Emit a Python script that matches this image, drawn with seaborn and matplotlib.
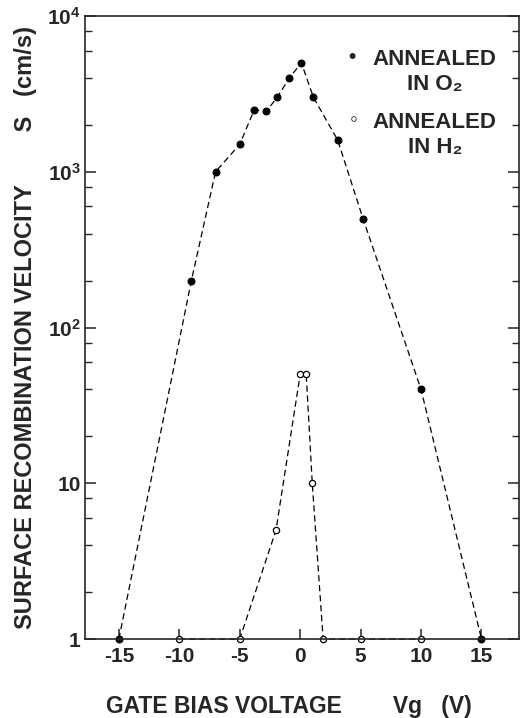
import numpy as np
import pandas as pd
import matplotlib
matplotlib.use('Agg')
import matplotlib.pyplot as plt
import matplotlib.ticker as mticker
import seaborn as sns

# Data
# ========================

# annealed in O2 (filled circles)
vg_o2 = [-15, -9, -7, -5, -3.8, -2.8, -1.9, -0.9, 0.1, 1.1, 3.1, 5.2, 10, 15]
s_o2 = [1, 200, 1000, 1500, 2500, 2450, 3000, 4000, 5000, 3000, 1600, 500, 40, 1]

# annealed in H2 (open circles)
vg_h2 = [-10, -5, -2, 0, 0.5, 1, 1.9, 5, 10]
s_h2 = [1, 1, 5, 50, 50, 10, 1, 1, 1]

x_ticks = [-15, -10, -5, 0, 5, 10, 15]
y_ticks = [1, 10, 100, 1000, 10000]
y_tick_labels = ['1', '10', '10$^2$', '10$^3$', '10$^4$']

sns.set_style('ticks')
plt.rcParams['font.family'] = ['Liberation Sans', 'DejaVu Sans']
plt.rcParams['font.weight'] = 'bold'
plt.rcParams['mathtext.fontset'] = 'custom'
plt.rcParams['mathtext.rm'] = 'Liberation Sans:bold'
plt.rcParams['mathtext.it'] = 'Liberation Sans:bold'
plt.rcParams['mathtext.bf'] = 'Liberation Sans:bold'

fig = plt.figure(figsize=(5.2, 7.18), dpi=100)
ax = fig.add_axes([0.1635, 0.110, 0.8345, 0.8677])

dash = (0, (5, 3))
sns.lineplot(x=vg_o2, y=s_o2, ax=ax, estimator=None, color='black',
             linewidth=0.9, linestyle=dash, marker='o', markersize=5,
             markerfacecolor='black', markeredgecolor='black', clip_on=False)
sns.lineplot(x=vg_h2, y=s_h2, ax=ax, estimator=None, color='black',
             linewidth=0.9, linestyle=dash, marker='o', markersize=4.5,
             markerfacecolor='white', markeredgecolor='black',
             markeredgewidth=0.9, clip_on=False)

ax.set_yscale('log')
ax.set_xlim(-17.8, 18.1)
ax.set_ylim(1, 1e4)
ax.set_xticks(x_ticks)
ax.set_xticklabels([str(v) for v in x_ticks])
ax.set_yticks(y_ticks)
ax.set_yticklabels(y_tick_labels)
ax.yaxis.set_minor_locator(mticker.LogLocator(base=10, subs=(2, 4, 6, 8)))
ax.yaxis.set_minor_formatter(mticker.NullFormatter())

for s in ax.spines.values():
    s.set_linewidth(1.2)
ax.tick_params(axis='x', direction='in', length=7, width=1.1, pad=6,
               labelsize=15, top=False)
ax.tick_params(axis='y', which='major', direction='in', length=8, width=1.1,
               pad=3, labelsize=15, right=True)
ax.tick_params(axis='y', which='minor', direction='in', length=5, width=1.0,
               right=True)

ax.set_xlabel('GATE BIAS VOLTAGE        Vg   (V)', fontsize=16.5,
              fontweight='bold')
ax.xaxis.set_label_coords(0.47, -0.090)
ax.set_ylabel('SURFACE RECOMBINATION VELOCITY        S   (cm/s)',
              fontsize=17, fontweight='bold')
ax.yaxis.set_label_coords(-0.111, 0.5)

# legend drawn as text, like the original
ax.text(0.616, 0.924, '\u2022', transform=ax.transAxes, ha='center',
        va='baseline', fontsize=15)
ax.text(0.806, 0.9213, 'ANNEALED', transform=ax.transAxes, ha='center',
        va='baseline', fontsize=16)
ax.text(0.806, 0.8812, 'IN O\u2082', transform=ax.transAxes, ha='center',
        va='baseline', fontsize=16)
ax.text(0.618, 0.823, '\u25e6', transform=ax.transAxes, ha='center',
        va='baseline', fontsize=16)
ax.text(0.806, 0.8202, 'ANNEALED', transform=ax.transAxes, ha='center',
        va='baseline', fontsize=16)
ax.text(0.806, 0.7801, 'IN H\u2082', transform=ax.transAxes, ha='center',
        va='baseline', fontsize=16)

plt.savefig('out.png', dpi=100)
